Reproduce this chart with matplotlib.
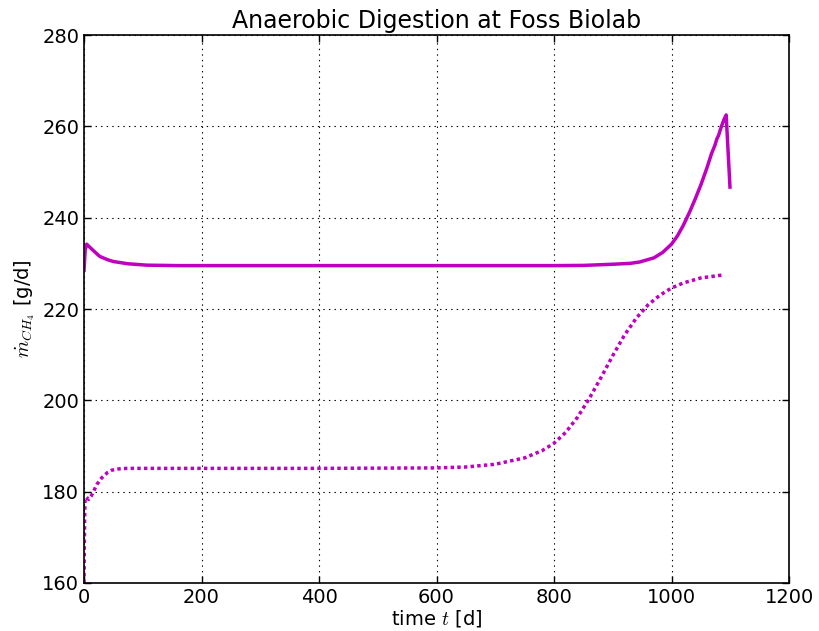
import numpy as np
import matplotlib.pyplot as plt

# solid curve: methane production rate
t_solid = [0, 2, 4.5, 10, 20, 27, 40, 50, 75, 107, 163, 200, 400, 600, 800,
           850, 900, 930, 946, 970, 985, 1000, 1010, 1020, 1031, 1040, 1050,
           1060, 1068, 1074, 1077, 1080, 1085, 1089, 1093, 1099.5]
y_solid = [228.5, 233.0, 234.2, 233.5, 232.3, 231.5, 230.8, 230.4, 229.9, 229.6, 229.5,
           229.5, 229.5, 229.5, 229.5, 229.55, 229.8, 230.0, 230.3, 231.2, 232.4,
           234.2, 236.0, 238.3, 241.3, 244.0, 247.2, 250.8, 254.0, 255.9, 257.2,
           258.0, 260.0, 261.4, 262.5, 246.7]

# dotted curve
t_dot = [0, 0.5, 1, 1.7, 4, 8, 12, 16, 22, 30, 40, 47, 60, 73, 100, 200, 400,
         600, 650, 700, 750, 780, 800, 820, 840, 860, 880, 900, 920, 940, 960,
         980, 1000, 1020, 1050, 1090]
y_dot = [160, 168, 174, 178.5, 178.8, 178.3, 179.0, 180.0, 181.6, 183.0, 184.2, 184.7,
         185.0, 185.1, 185.1, 185.1, 185.1, 185.2, 185.4, 186.0, 187.4, 189.0,
         190.6, 193.0, 196.3, 200.4, 205.0, 209.8, 214.3, 218.0, 220.9, 223.0,
         224.6, 225.7, 226.8, 227.5]

plt.rcParams['mathtext.fontset'] = 'cm'
plt.rcParams['lines.scale_dashes'] = False
plt.rcParams['xtick.direction'] = 'in'
plt.rcParams['ytick.direction'] = 'in'

fig = plt.figure(figsize=(8.19, 6.31), dpi=100)
ax = fig.add_axes([0.1026, 0.0761, 0.8608, 0.8684])

ax.plot(t_solid, y_solid, color='m', lw=2.5, solid_joinstyle='round')
ax.plot(t_dot, y_dot, color='m', lw=2.5, linestyle=(0, (2.5, 2.3)))

ax.set_xlim(0, 1200)
ax.set_ylim(160, 280)
ax.set_xticks(np.arange(0, 1201, 200))
ax.set_yticks(np.arange(160, 281, 20))
ax.tick_params(top=True, right=True, labelsize=14, length=5, width=1)
ax.grid(True, color='k', lw=0.8, linestyle=(0, (1, 3)))
for s in ax.spines.values():
    s.set_linewidth(1.2)

ax.set_xlabel('time $t$ [d]', fontsize=14, labelpad=1)
ax.set_ylabel(r'$\dot{m}_{CH_4}$ [g/d]', fontsize=14)
ax.set_title('Anaerobic Digestion at Foss Biolab', fontsize=17, pad=5)

fig.savefig('out.png', dpi=100)
